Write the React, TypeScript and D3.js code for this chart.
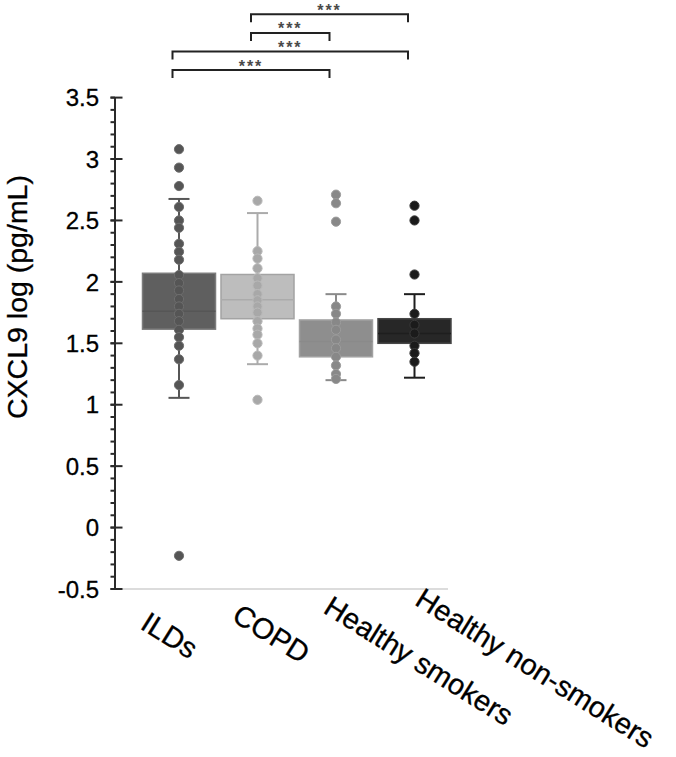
import React, { useEffect } from "react";
import * as d3 from "d3";

// groups along the x axis
const groups = ["ILDs", "COPD", "Healthy smokers", "Healthy non-smokers"];

// individual measurements, log pg/mL
const ildPoints = [3.08, 2.93, 2.78, 2.61, 2.5, 2.44, 2.31, 2.245, 2.18, 2.055, 1.99, 1.93, 1.86, 1.8, 1.74, 1.68, 1.61, 1.55, 1.48, 1.37, 1.16, -0.23];
const copdPoints = [2.66, 2.25, 2.19, 2.11, 2.03, 1.97, 1.9, 1.85, 1.8, 1.75, 1.68, 1.62, 1.57, 1.5, 1.4, 1.04];
const smokerPoints = [2.71, 2.64, 2.49, 1.8, 1.74, 1.67, 1.61, 1.53, 1.46, 1.39, 1.32, 1.25, 1.21];
const nonSmokerPoints = [2.62, 2.5, 2.06, 1.74, 1.65, 1.58, 1.48, 1.42, 1.35];

// box summaries per group: [lower whisker, q1, median, q3, upper whisker]
const ildBox = [1.056, 1.615, 1.76, 2.07, 2.675];
const copdBox = [1.33, 1.7, 1.855, 2.06, 2.56];
const smokerBox = [1.2, 1.39, 1.515, 1.69, 1.9];
const nonSmokerBox = [1.22, 1.5, 1.58, 1.7, 1.9];

// pairwise comparisons, top bracket first
const comparisons = [
  ["COPD", "Healthy non-smokers"],
  ["COPD", "Healthy smokers"],
  ["ILDs", "Healthy non-smokers"],
  ["ILDs", "Healthy smokers"],
];
const compLabels = ["***", "***", "***", "***"];

const yTicks = [-0.5, 0, 0.5, 1, 1.5, 2, 2.5, 3, 3.5];

const points = [ildPoints, copdPoints, smokerPoints, nonSmokerPoints];
const boxes = [ildBox, copdBox, smokerBox, nonSmokerBox];

const boxFill = ["#5f5f5f", "#bdbdbd", "#8e8e8e", "#272727"];
const boxStroke = ["#7c7c7c", "#a3a3a3", "#a2a2a2", "#474747"];
const lineColor = ["#565656", "#ababab", "#8a8a8a", "#1e1e1e"];
const dotColor = ["#555555", "#a8a8a8", "#888888", "#1b1b1b"];
const dotStroke = ["#6e6e6e", "#bababa", "#9c9c9c", "#3a3a3a"];

const FONT = "'Liberation Sans', Arial, sans-serif";

export default function App() {
  useEffect(() => {
    document.body.style.margin = "0";
  }, []);

  const width = 676;
  const height = 757;

  const y = d3.scaleLinear().domain([-0.5, 3.5]).range([589, 97.6]);
  const x = d3.scalePoint<string>().domain(groups).range([179, 414.5]);
  const boxW = 73;
  const capW = 21;
  const axisX = 115;

  const minorTicks = d3.range(-5, 36).map((d) => d / 10);

  return (
    <svg width={width} height={height} style={{ display: "block", background: "#fff" }} fontFamily={FONT}>
      {/* significance brackets */}
      {comparisons.map(([a, b], i) => {
        const x1 = (x(a) as number) - 6.5;
        const x2 = (x(b) as number) - 6.5;
        const ly = 14.3 + i * 18.6;
        return (
          <g key={"cmp" + i}>
            <path d={`M${x1},${ly + 8}V${ly}H${x2}V${ly + 8}`} fill="none" stroke="#222" strokeWidth={2} />
            <text
              x={(x1 + x2) / 2}
              y={ly + 1.5}
              textAnchor="middle"
              fontSize={16}
              fontWeight="bold"
              letterSpacing={2}
              fill="#4a4a4a"
            >
              {compLabels[i]}
            </text>
          </g>
        );
      })}

      {/* x baseline */}
      <line x1={axisX} x2={448} y1={y(-0.5)} y2={y(-0.5)} stroke="#d0d0d0" strokeWidth={1.5} />

      {/* y axis */}
      <line x1={axisX} x2={axisX} y1={y(-0.5)} y2={y(3.5)} stroke="#2a2a2a" strokeWidth={2} />
      {minorTicks.map((t) => (
        <line key={"mt" + t} x1={axisX - 4.5} x2={axisX} y1={y(t)} y2={y(t)} stroke="#2a2a2a" strokeWidth={2} />
      ))}
      {yTicks.map((t) => (
        <g key={"t" + t}>
          <line x1={axisX - 4.5} x2={axisX + 7.5} y1={y(t)} y2={y(t)} stroke="#2a2a2a" strokeWidth={2} />
          <text x={99} y={y(t)} dy="0.36em" textAnchor="end" fontSize={24} fill="#000" stroke="#000" strokeWidth={0.3}>
            {t < 0 ? "-" + Math.abs(t) : String(t)}
          </text>
        </g>
      ))}
      <text
        transform={`translate(27,${297}) rotate(-90)`}
        textAnchor="middle"
        fontSize={28.5}
        fill="#000"
        stroke="#000"
        strokeWidth={0.3}
      >
        CXCL9 log (pg/mL)
      </text>

      {/* boxes */}
      {groups.map((g, i) => {
        const cx = x(g) as number;
        const [lo, q1, med, q3, hi] = boxes[i];
        return (
          <g key={"box" + g}>
            <line x1={cx} x2={cx} y1={y(lo)} y2={y(hi)} stroke={lineColor[i]} strokeWidth={2} />
            <line x1={cx - capW / 2} x2={cx + capW / 2} y1={y(lo)} y2={y(lo)} stroke={lineColor[i]} strokeWidth={2} />
            <line x1={cx - capW / 2} x2={cx + capW / 2} y1={y(hi)} y2={y(hi)} stroke={lineColor[i]} strokeWidth={2} />
            <rect
              x={cx - boxW / 2}
              y={y(q3)}
              width={boxW}
              height={y(q1) - y(q3)}
              fill={boxFill[i]}
              stroke={boxStroke[i]}
              strokeWidth={1.5}
            />
            <line x1={cx - boxW / 2} x2={cx + boxW / 2} y1={y(med)} y2={y(med)} stroke={lineColor[i]} strokeWidth={1.5} />
            {points[i].map((v, j) => (
              <circle key={j} cx={cx} cy={y(v)} r={4.6} fill={dotColor[i]} stroke={dotStroke[i]} strokeWidth={1} />
            ))}
          </g>
        );
      })}

      {/* category labels */}
      {groups.map((g, i) => (
        <text
          key={"lbl" + g}
          transform={`translate(${(x(g) as number) - 40 + i * 13},${628 - 8 * i}) rotate(32)`}
          fontSize={29}
          fill="#000"
          stroke="#000"
          strokeWidth={0.3}
        >
          {g}
        </text>
      ))}
    </svg>
  );
}
